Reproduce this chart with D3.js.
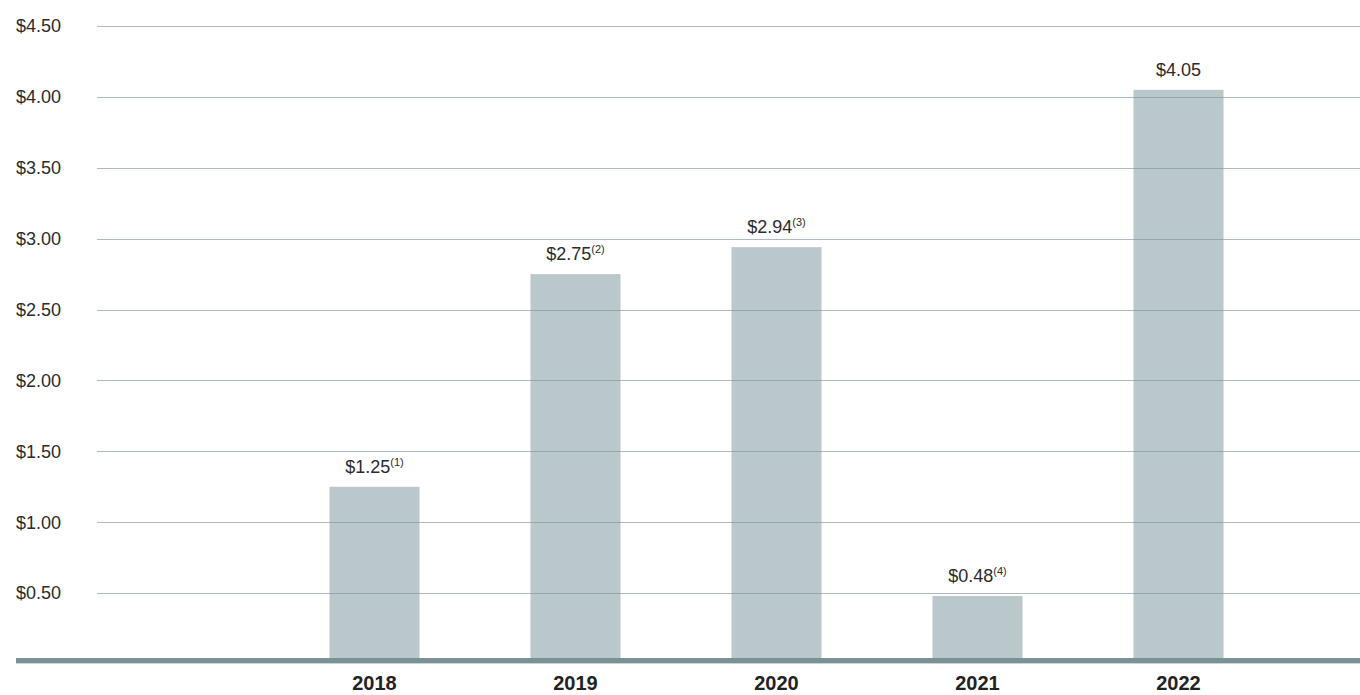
<!DOCTYPE html>
<html>

<head>
  <title>Bar</title>
  <script src="https://cdn.jsdelivr.net/npm/d3@7"></script>
  <style>
    body { margin: 0; background: #fff; }
    text { font-family: "Liberation Sans", Arial, sans-serif; }
  </style>
</head>

<body>
  <svg width="1360" height="695" id="mainsvg"></svg>
  <script>
    // data
    const years = ['', '2018', '2019', '2020', '2021', '2022'];
    const values = [null, 1.25, 2.75, 2.94, 0.48, 4.05];
    const notes = [null, '(1)', '(2)', '(3)', '(4)', ''];
    const ticks = [0.5, 1, 1.5, 2, 2.5, 3, 3.5, 4, 4.5];

    const svg = d3.select('#mainsvg');
    const width = +svg.attr('width');
    const height = +svg.attr('height');

    const x = d3.scaleBand()
      .domain(years)
      .range([73, 1279])
      .paddingInner(0.552)
      .paddingOuter(0.276);

    const y = d3.scaleLinear()
      .domain([0, 4.5])
      .range([664, 26]);

    const data = years.map((d, i) => ({ year: d, value: values[i], note: notes[i] }))
      .filter(d => d.value !== null);

    // bars
    svg.selectAll('.bar')
      .data(data)
      .join('rect')
      .attr('class', 'bar')
      .attr('x', d => x(d.year))
      .attr('width', x.bandwidth())
      .attr('y', d => y(d.value))
      .attr('height', d => y(0) - y(d.value))
      .attr('fill', '#bac7cb');

    // grid lines on top of bars
    svg.selectAll('.grid')
      .data(ticks)
      .join('line')
      .attr('class', 'grid')
      .attr('x1', 97)
      .attr('x2', width)
      .attr('y1', d => Math.round(y(d)) + 0.5)
      .attr('y2', d => Math.round(y(d)) + 0.5)
      .attr('stroke', '#7f979c')
      .attr('stroke-opacity', 0.65)
      .attr('stroke-width', 1.2);

    // y labels
    svg.selectAll('.ylab')
      .data(ticks)
      .join('text')
      .attr('class', 'ylab')
      .attr('x', 16)
      .attr('y', d => y(d))
      .attr('dy', '0.35em')
      .attr('font-size', 18)
      .attr('fill', '#2b2b2b')
      .text(d => '$' + d3.format('.2f')(d));

    // baseline
    svg.append('line')
      .attr('x1', 16)
      .attr('x2', width)
      .attr('y1', 660.5)
      .attr('y2', 660.5)
      .attr('stroke', '#7a9196')
      .attr('stroke-width', 5);
    svg.append('line')
      .attr('x1', 16)
      .attr('x2', width)
      .attr('y1', 663.5)
      .attr('y2', 663.5)
      .attr('stroke', '#c9d3d5')
      .attr('stroke-width', 1);

    // year labels
    svg.selectAll('.xlab')
      .data(data)
      .join('text')
      .attr('class', 'xlab')
      .attr('x', d => x(d.year) + x.bandwidth() / 2)
      .attr('y', 690)
      .attr('text-anchor', 'middle')
      .attr('font-size', 20)
      .attr('font-weight', 'bold')
      .attr('fill', '#222')
      .text(d => d.year);

    // value labels
    const vl = svg.selectAll('.vlab')
      .data(data)
      .join('text')
      .attr('class', 'vlab')
      .attr('x', d => x(d.year) + x.bandwidth() / 2)
      .attr('y', d => y(d.value) - 14)
      .attr('text-anchor', 'middle')
      .attr('font-size', 18)
      .attr('fill', '#2b2b2b');
    vl.append('tspan').text(d => '$' + d3.format('.2f')(d.value));
    vl.append('tspan')
      .attr('font-size', 11)
      .attr('dy', -7)
      .text(d => d.note);
  </script>
</body>

</html>
